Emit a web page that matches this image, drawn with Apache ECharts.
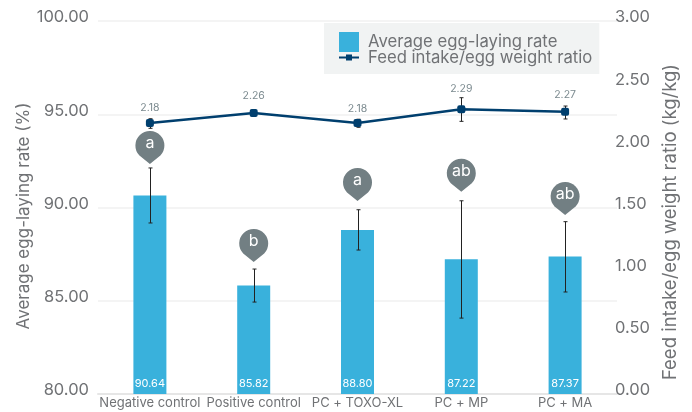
<!DOCTYPE html>
<html>
<head>
<meta charset="utf-8">
<style>html,body{margin:0;padding:0;background:#fff}#chart{width:692px;height:412px}</style>
<script src="https://cdn.jsdelivr.net/npm/echarts@6/dist/echarts.min.js"></script>
</head>
<body>
<div id="chart"></div>
<script>
// Data
const categories = ["Negative control", "Positive control", "PC + TOXO-XL", "PC + MP", "PC + MA"];
const layingRate = [90.64, 85.82, 88.80, 87.22, 87.37];
const layingLow = [89.17, 84.93, 87.72, 84.07, 85.47];
const layingHigh = [92.12, 86.70, 89.88, 90.36, 89.24];
const feedRatio = [2.18, 2.26, 2.18, 2.29, 2.27];
const ratioLow = [2.137, 2.24, 2.145, 2.193, 2.212];
const ratioHigh = [2.214, 2.28, 2.21, 2.383, 2.316];
const pinLetters = ["a", "b", "a", "ab", "ab"];
const pinTips = [92.33, 87.08, 90.35, 90.85, 89.60];
const ratioLabelLift = [1, 3, 0, 6, 2];
const leftTicks = { min: 80, max: 100, interval: 5 };
const rightTicks = { min: 0, max: 3, interval: 0.5 };

const FONT = "Inter";
const GRAY = "#707275";
const NAVY = "#003f6e";
const PIN = "path://M14.5 33L4 24.5A14.5 14.5 0 1 1 25 24.5Z";
const LINE_ICON = "path://M0 9H7V7H13V9H20V11H13V13H7V11H0Z";

function errorBars(low, high, yAxisIndex, color, name) {
    return {
        type: "custom",
        name: name,
        yAxisIndex: yAxisIndex,
        z: 5,
        silent: true,
        data: categories.map((c, i) => [i, low[i], high[i]]),
        encode: { x: 0, y: [1, 2] },
        renderItem(params, api) {
            const a = api.coord([api.value(0), api.value(1)]);
            const b = api.coord([api.value(0), api.value(2)]);
            const style = { stroke: color, lineWidth: 1 };
            const x = Math.round(a[0]) + 0.5;
            const seg = (x1, y1, x2, y2) => ({ type: "line", shape: { x1, y1, x2, y2 }, style });
            return {
                type: "group",
                children: [
                    seg(x, a[1], x, b[1]),
                    seg(x - 2, a[1], x + 2, a[1]),
                    seg(x - 2, b[1], x + 2, b[1])
                ]
            };
        }
    };
}

const chart = echarts.init(document.getElementById("chart"), null, { renderer: "canvas" });

chart.setOption({
    animation: false,
    textStyle: { fontFamily: FONT },
    grid: { left: 98, right: 75, top: 21, bottom: 18, outerBoundsMode: "none" },
    legend: {
        left: 324,
        top: 23,
        orient: "vertical",
        backgroundColor: "#f1f3f3",
        padding: [9, 7, 8, 15],
        itemWidth: 20,
        itemHeight: 20,
        itemGap: -3,
        selectedMode: false,
        textStyle: { color: GRAY, fontSize: 16.7, fontFamily: FONT },
        data: [
            { name: "Average egg-laying rate", icon: "rect", textStyle: { padding: [0, 0, 5, 4] } },
            { name: "Feed intake/egg weight ratio", icon: LINE_ICON, textStyle: { padding: [0, 0, 3, 4] } }
        ]
    },
    xAxis: {
        type: "category",
        data: categories,
        axisTick: { show: false },
        axisLine: { lineStyle: { color: "#e6e6e6", width: 2 } },
        axisLabel: { color: GRAY, fontSize: 13, margin: 3, interval: 0 }
    },
    yAxis: [
        {
            type: "value",
            ...leftTicks,
            name: "Average egg-laying rate (%)",
            nameLocation: "middle",
            nameGap: 66,
            nameMoveOverlap: false,
            nameTextStyle: { color: GRAY, fontSize: 17, padding: [0, 17, 0, 0] },
            axisLine: { show: false },
            axisTick: { show: false },
            axisLabel: { color: GRAY, fontSize: 16.5, margin: 9, verticalAlign: "bottom", lineHeight: 7, formatter: v => v.toFixed(2) },
            splitLine: { lineStyle: { color: "#f0f0f0", width: 1.5 } }
        },
        {
            type: "value",
            ...rightTicks,
            name: "Feed intake/egg weight ratio (kg/kg)",
            nameLocation: "middle",
            nameGap: 44,
            nameRotate: 90,
            nameTextStyle: { color: GRAY, fontSize: 18.5, padding: [0, 29, 0, 0] },
            axisLine: { show: false },
            axisTick: { show: false },
            axisLabel: { color: GRAY, fontSize: 16.5, margin: -2, verticalAlign: "bottom", lineHeight: 7, formatter: v => v.toFixed(2) },
            splitLine: { show: false }
        }
    ],
    series: [
        {
            type: "bar",
            name: "Average egg-laying rate",
            data: layingRate,
            barWidth: 33,
            itemStyle: { color: "#39b1dc" },
            label: {
                show: true,
                position: "insideBottom",
                distance: 5,
                color: "#fff",
                fontSize: 11,
                formatter: p => p.value.toFixed(2)
            }
        },
        errorBars(layingLow, layingHigh, 0, "#222", "laying error"),
        {
            type: "line",
            name: "Feed intake/egg weight ratio",
            yAxisIndex: 1,
            z: 6,
            data: feedRatio.map((v, i) => ({
                value: v,
                label: { offset: [0, -ratioLabelLift[i]] }
            })),
            symbol: "roundRect",
            symbolSize: 8,
            lineStyle: { color: NAVY, width: 2.5 },
            itemStyle: { color: NAVY },
            label: {
                show: true,
                position: "top",
                distance: 5,
                color: "#7b8a8f",
                fontSize: 10.5,
                formatter: p => p.value.toFixed(2)
            }
        },
        errorBars(ratioLow, ratioHigh, 1, "#222", "ratio error"),
        {
            type: "scatter",
            name: "Significance",
            z: 7,
            data: pinTips.map((v, i) => ({
                value: [i, v],
                label: { formatter: pinLetters[i] }
            })),
            symbol: PIN,
            symbolSize: [29, 33],
            symbolOffset: [0, "-50%"],
            symbolKeepAspect: false,
            itemStyle: { color: "#727f83", opacity: 1 },
            label: {
                show: true,
                position: "inside",
                color: "#fff",
                fontSize: 16,
                offset: [0, -4]
            }
        }
    ]
});
</script>
</body>
</html>
